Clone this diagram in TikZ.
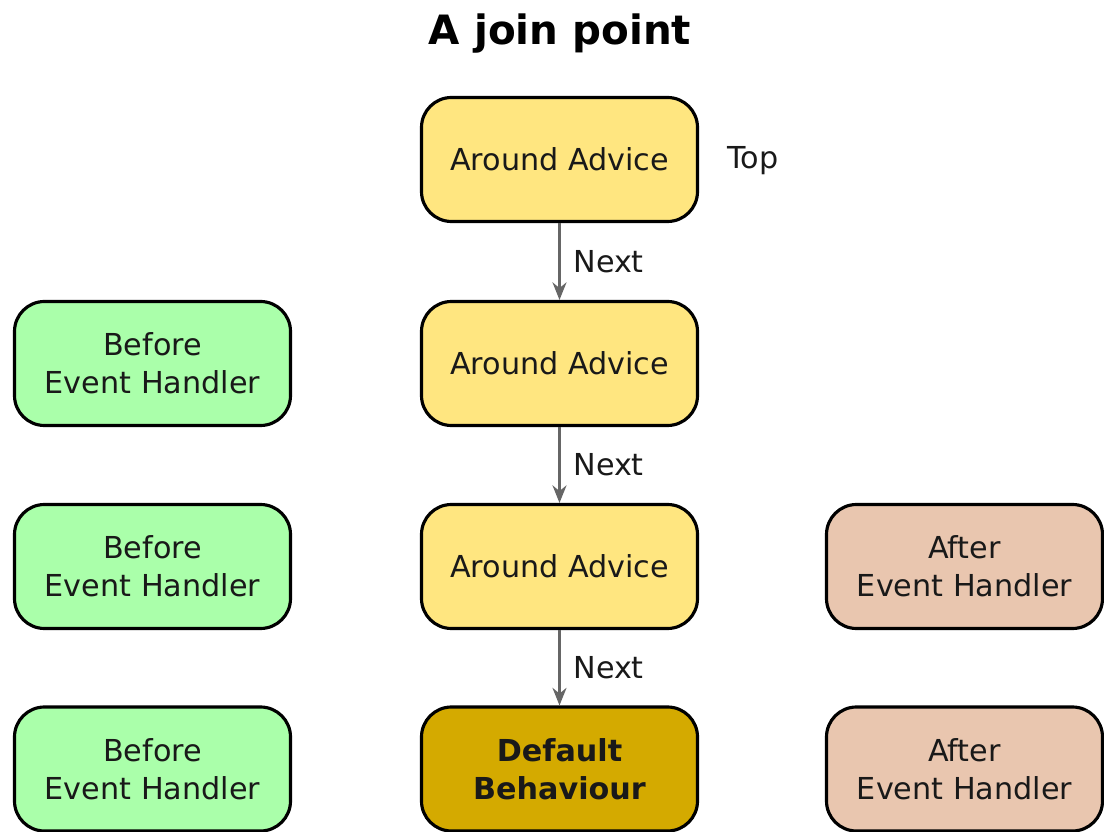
\documentclass[tikz,border=0pt]{standalone}
\usepackage{fontspec}
\setmainfont{DejaVu Sans}
\usepackage{tikz}
\usetikzlibrary{arrows.meta}

\definecolor{advice}{HTML}{FFE680}
\definecolor{before}{HTML}{AAFFAA}
\definecolor{after}{HTML}{E9C6AF}
\definecolor{default}{HTML}{D4AA00}

\tikzset{
  box/.style={draw=black, line width=1.8pt, rounded corners=0.6cm, minimum width=5.52cm, minimum height=2.48cm, align=center, text=black!90, font=\fontsize{17.2}{21.5}\selectfont},
  nextarrow/.style={draw=black!60, line width=1.2pt, -{Stealth[length=10pt,width=8pt]}},
  lbl/.style={font=\fontsize{17.2}{21.5}\selectfont, text=black!90, anchor=west}
}

\begin{document}
\begin{tikzpicture}
   \useasboundingbox (0,0) rectangle (22.08,-16.64);
   \node (title) at (11.2,-0.68) {\fontsize{23}{27}\selectfont\bfseries A join point};
   % middle column
   \node[box, fill=advice] (around1) at (11.19,-3.19) {Around Advice};
   \node[box, fill=advice] (around2) at (11.19,-7.27) {Around Advice};
   \node[box, fill=advice] (around3) at (11.19,-11.33) {Around Advice};
   \node[box, fill=default, font=\fontsize{17.2}{21.5}\selectfont\bfseries] (default) at (11.19,-15.38) {Default\\Behaviour};
   \node[lbl] (top) at (14.42,-3.22) {Top};
   % before and after handlers
   \foreach \name/\y in {before2/-7.27,before3/-11.33,before4/-15.38}
      \node[box, fill=before] (\name) at (3.05,\y) {Before\\Event Handler};
   \foreach \name/\y in {after3/-11.33,after4/-15.38}
      \node[box, fill=after] (\name) at (19.29,\y) {After\\Event Handler};
   % next links
   \foreach \a/\b in {around1/around2,around2/around3,around3/default}
      \draw[nextarrow] (\a.south) -- node[lbl, xshift=0.14cm] {Next} (\b.north);
\end{tikzpicture}
\end{document}
